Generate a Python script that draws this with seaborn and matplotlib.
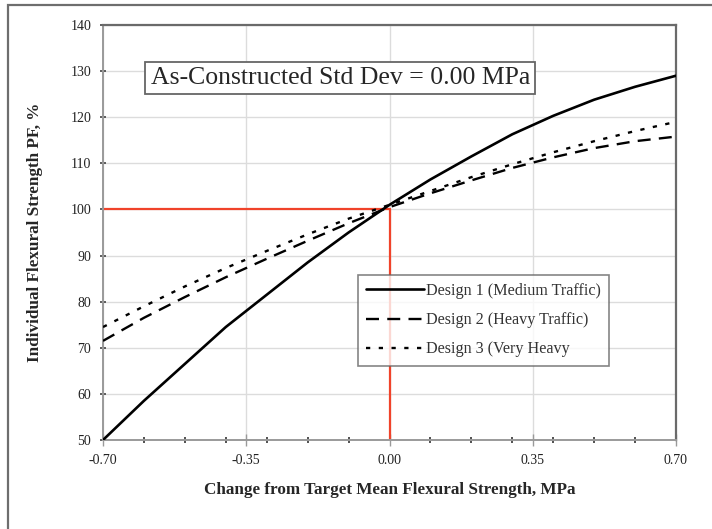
import numpy as np
import pandas as pd
import seaborn as sns
import matplotlib
matplotlib.use("Agg")
import matplotlib.pyplot as plt
from matplotlib.patches import Rectangle
from matplotlib.ticker import FixedLocator

# Change from target mean flexural strength (MPa)
strength_change = [-0.7, -0.6, -0.5, -0.4, -0.3, -0.2, -0.1, 0.0,
                   0.1, 0.2, 0.3, 0.4, 0.5, 0.6, 0.7]

# Individual flexural strength pay factor (%) for each design
design1 = [50.0, 58.5, 66.5, 74.5, 81.5, 88.5, 95.0, 101.0,
           106.5, 111.5, 116.3, 120.3, 123.8, 126.6, 129.0]
design2 = [71.5, 76.5, 81.0, 85.3, 89.3, 93.2, 97.0, 100.5,
           103.5, 106.3, 109.0, 111.3, 113.3, 114.8, 115.8]
design3 = [74.5, 79.0, 83.3, 87.3, 91.0, 94.6, 98.0, 101.0,
           104.0, 107.0, 109.8, 112.4, 114.8, 117.0, 119.0]

series_names = ["Design 1 (Medium Traffic)",
                "Design 2 (Heavy Traffic)",
                "Design 3 (Very Heavy"]

x_major_ticks = [-0.70, -0.35, 0.00, 0.35, 0.70]
x_tick_labels = ["-0.70", "-0.35", "0.00", "0.35", "0.70"]
y_ticks = [50, 60, 70, 80, 90, 100, 110, 120, 130, 140]

df = pd.DataFrame({
    "x": strength_change * 3,
    "pf": design1 + design2 + design3,
    "design": sum([[n] * len(strength_change) for n in series_names], []),
})

sns.set_theme(style="white")
plt.rcParams["font.family"] = ["Liberation Serif", "DejaVu Serif"]

fig = plt.figure(figsize=(7.12, 5.29), dpi=100)
fig.patch.set_facecolor("white")
ax = fig.add_axes([103 / 712, 1 - 440 / 529, 573 / 712, 415 / 529])

# Outer frame around the chart area
fig.add_artist(Rectangle((8 / 712, -0.2), 1.2, 1.2 - 5 / 529,
                         transform=fig.transFigure, fill=False,
                         edgecolor="#6e6e6e", linewidth=1.6, zorder=0))

# Reference lines at target strength / 100% pay
ax.plot([-0.70, 0.0], [100, 100], color="#f0432a", lw=1.6, zorder=2)
ax.plot([0.0, 0.0], [50, 100], color="#f0432a", lw=1.6, zorder=2)

styles = {
    series_names[0]: dict(ls="-", lw=1.9),
    series_names[1]: dict(ls=(0, (5.5, 3.5)), lw=1.7),
    series_names[2]: dict(ls=(0, (1.8, 3.6)), lw=1.7),
}
for name in series_names:
    sub = df[df["design"] == name]
    sns.lineplot(data=sub, x="x", y="pf", ax=ax, color="black",
                 linestyle=styles[name]["ls"], linewidth=styles[name]["lw"],
                 label=name, zorder=3)

ax.set_xlim(-0.70, 0.70)
ax.set_ylim(50, 140)
ax.xaxis.set_major_locator(FixedLocator(x_major_ticks))
ax.set_xticklabels(x_tick_labels)
ax.xaxis.set_minor_locator(FixedLocator(np.round(np.arange(-0.6, 0.61, 0.1), 2)))
ax.set_yticks(y_ticks)
ax.grid(True, which="major", color="#dcdcdc", lw=1.0)
ax.set_axisbelow(True)

ax.tick_params(axis="x", which="major", direction="inout", length=8, width=1.0,
               color="#9a9a9a", labelsize=10, pad=6, labelcolor="#222222")
ax.tick_params(axis="x", which="minor", direction="inout", length=5, width=1.2,
               color="#333333", bottom=True)
ax.tick_params(axis="y", which="major", direction="inout", length=5, width=1.2,
               color="#444444", labelsize=10, pad=6, labelcolor="#222222", left=True)
ax.tick_params(axis="x", bottom=True)

for side in ["left", "bottom"]:
    ax.spines[side].set_color("#9a9a9a")
    ax.spines[side].set_linewidth(1.4)
for side in ["top", "right"]:
    ax.spines[side].set_color("#6a6a6a")
    ax.spines[side].set_linewidth(1.6)

ax.set_xlabel("Change from Target Mean Flexural Strength, MPa",
              fontsize=12.3, fontweight="bold", labelpad=11)
ax.set_ylabel("Individual Flexural Strength PF, %",
              fontsize=12.3, fontweight="bold", labelpad=20)

ax.text(0.083, 0.873, "As-Constructed Std Dev = 0.00 MPa",
        transform=ax.transAxes, fontsize=18.5, ha="left", va="center",
        bbox=dict(boxstyle="square,pad=0.2", facecolor="white",
                  edgecolor="#666666", linewidth=1.3), zorder=5)

leg = ax.legend(loc="upper left", bbox_to_anchor=(255 / 573, 1 - 250 / 415),
                frameon=True, fancybox=False, fontsize=11.6, handlelength=3.6,
                handletextpad=0.1, labelspacing=0.82, borderpad=0.5,
                borderaxespad=0)
leg.get_frame().set_edgecolor("#666666")
leg.get_frame().set_linewidth(1.2)
for t in leg.get_texts():
    t.set_color("#333333")

fig.savefig("out.png", dpi=100, facecolor="white")
